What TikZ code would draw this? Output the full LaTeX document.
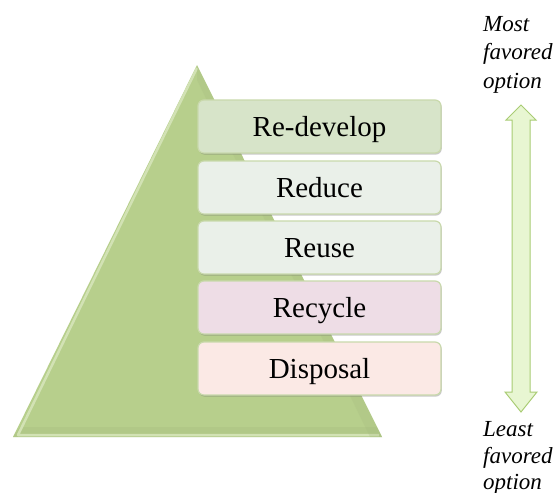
\documentclass[tikz,border=0pt]{standalone}
\usepackage{fontspec}
\setmainfont{Liberation Serif}
\usetikzlibrary{shadows}
\definecolor{pyrgreen}{HTML}{B7CF8C}
\definecolor{pyredge}{HTML}{D2E2B4}
\definecolor{boxedge}{HTML}{C9D9AC}
\definecolor{fillA}{HTML}{D7E4C9}
\definecolor{fillB}{HTML}{EAF0E9}
\definecolor{fillC}{HTML}{EEDDE6}
\definecolor{fillD}{HTML}{FBE9E5}
\definecolor{arrowfill}{HTML}{E8F6D2}
\definecolor{arrowedge}{HTML}{A9CC74}
\tikzset{
  tier/.style={draw=boxedge, line width=1.2pt, rounded corners=6pt,
    minimum width=243pt, minimum height=53pt, inner sep=0pt,
    text height=19pt, text depth=0pt,
    font=\fontsize{29}{32}\selectfont,
    drop shadow={shadow xshift=0.8pt, shadow yshift=-1.6pt, opacity=0.35, fill=black!60}},
  sideline/.style={font=\itshape\fontsize{23}{28}\selectfont,
    anchor=base west, inner sep=0pt}
}
\begin{document}
\begin{tikzpicture}[x=1pt,y=-1pt]
  \useasboundingbox (0,0) rectangle (558,493);
  \fill[white] (0,0) rectangle (558,493);

  % pyramid with a light bevel on the left and a shaded foot
  \fill[pyrgreen] (197,65) -- (382,437) -- (13,437) -- cycle;
  \fill[pyrgreen!85!black, opacity=0.2] (20,427) -- (377,427) -- (382,437) -- (13,437) -- cycle;
  \draw[pyredge, line width=2.5pt, line join=round] (197,68) -- (18,435) -- (379,435);
  \fill[pyrgreen!90!black, opacity=0.25] (197,65) -- (382,437) -- (370,437) -- (197,80) -- cycle;

  % tiers
  \node[tier, fill=fillA] (redevelop) at (319.5,126.5) {Re-develop};
  \node[tier, fill=fillB] (reduce)    at (319.5,187.5) {Reduce};
  \node[tier, fill=fillB] (reuse)     at (319.5,247.5) {Reuse};
  \node[tier, fill=fillC] (recycle)   at (319.5,307.5) {Recycle};
  \node[tier, fill=fillD] (disposal)  at (319.5,368.5) {Disposal};

  % double-headed preference arrow
  \filldraw[fill=arrowfill, draw=arrowedge, line width=1pt, line join=miter]
    (521,105) -- (536,120) -- (530,120) -- (530,392) -- (537,392) -- (521,412)
    -- (505,392) -- (512,392) -- (512,120) -- (506,120) -- cycle;

  % end labels
  \node[sideline] (most1) at (483,31) {Most};
  \node[sideline] (most2) at (483,59.5) {favored};
  \node[sideline] (most3) at (483,88) {option};
  \node[sideline] (least1) at (483,436) {Least};
  \node[sideline] (least2) at (483,463.5) {favored};
  \node[sideline] (least3) at (483,489) {option};
\end{tikzpicture}
\end{document}
